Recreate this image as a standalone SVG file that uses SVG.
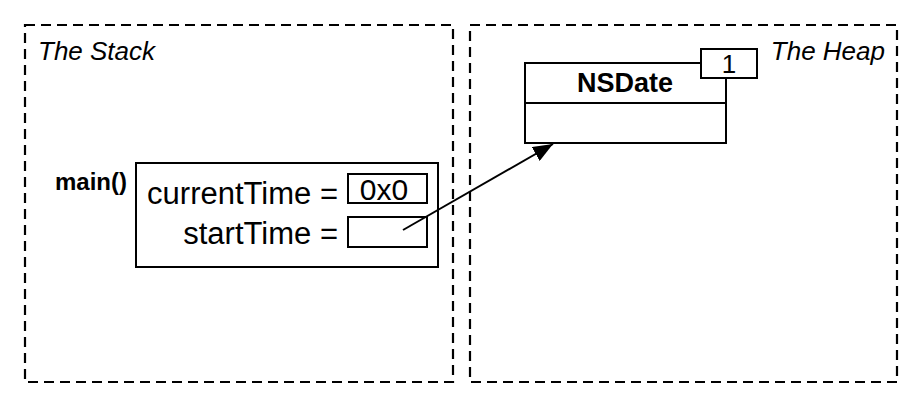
<svg xmlns="http://www.w3.org/2000/svg" width="920" height="405" viewBox="0 0 920 405">
<defs>
<style>
.region{fill:none;stroke:#000;stroke-width:2.2;stroke-dasharray:10,6}
.box{fill:#fff;stroke:#000;stroke-width:2}
.t{font-family:"Liberation Sans",Arial,sans-serif;fill:#000}
.it{font-style:italic;font-size:26px}
.b{font-weight:bold}
.line{fill:none;stroke:#000;stroke-width:2}
</style>
<marker id="ah" viewBox="0 0 20 16" refX="20" refY="8" markerWidth="20" markerHeight="16" markerUnits="userSpaceOnUse" orient="auto">
<path d="M0,0 L20,8 L0,16 z" fill="#000"/>
</marker>
</defs>
<rect width="920" height="405" fill="#fff"/>
<g id="stack">
<rect class="region" x="25" y="25" width="428" height="357"/>
<text class="t it" x="38" y="60">The Stack</text>
</g>
<g id="heap">
<rect class="region" x="470" y="25" width="427" height="357"/>
<text class="t it" x="885" y="60" text-anchor="end">The Heap</text>
</g>
<g id="nsdate">
<rect class="box" x="525" y="63" width="201" height="80"/>
<line class="line" x1="525" y1="103" x2="726" y2="103"/>
<text class="t b" x="625" y="92" font-size="27" text-anchor="middle">NSDate</text>
<rect class="box" x="701" y="49" width="56" height="29"/>
<text class="t" x="729" y="73" font-size="26" text-anchor="middle">1</text>
</g>
<g id="main">
<text class="t b" x="55" y="190" font-size="24">main()</text>
<rect class="box" x="136" y="163" width="302" height="104"/>
<text class="t" x="338" y="204" font-size="31" text-anchor="end">currentTime =</text>
<text class="t" x="338" y="244" font-size="31" text-anchor="end">startTime =</text>
<rect class="box" x="348" y="174" width="79" height="29"/>
<text class="t" x="384" y="200" font-size="30" text-anchor="middle">0x0</text>
<rect class="box" x="348" y="217" width="79" height="30"/>
</g>
<g id="connectors">
<path class="line" d="M403,230 L553,144" marker-end="url(#ah)"/>
</g>
</svg>
